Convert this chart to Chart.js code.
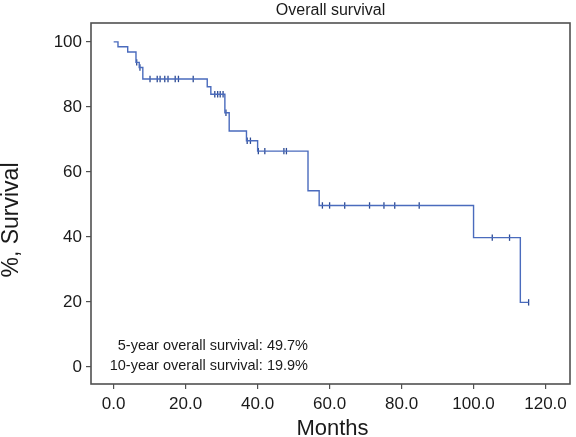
<!DOCTYPE html>
<html><head><meta charset="utf-8">
<script src="https://cdn.jsdelivr.net/npm/chart.js@4"></script>
<style>html,body{margin:0;padding:0;background:#fff}</style>
</head><body>
<canvas id="c" width="576" height="437" style="display:block;width:576px;height:437px"></canvas>
<script>
const chartTitle = 'Overall survival';
const xTitle = 'Months';
const yTitle = '%, Survival';
const xTicks = [0, 20, 40, 60, 80, 100, 120];
const yTicks = [0, 20, 40, 60, 80, 100];
const eventMonths   = [0, 1.2, 3.9, 6.2, 7.1, 8.1, 26.0, 27.0, 30.9, 32.1, 36.9, 40.0, 54.0, 57.1, 100.0, 113.0, 115.3];
const eventSurvival = [100, 98.5, 96.9, 93.7, 92.1, 88.6, 86.2, 83.9, 78.2, 72.6, 69.6, 66.4, 54.2, 49.7, 39.8, 19.9, 19.9];
const censorMonths   = [6.4, 7.3, 10.1, 12.1, 12.9, 14.2, 15.1, 17.1, 18.0, 22.1, 28.1, 28.9, 29.6, 30.4, 31.2, 37.1, 38.0, 40.2, 42.0, 47.3, 48.0, 58.0, 60.0, 64.2, 71.1, 75.1, 78.1, 84.9, 105.2, 110.0, 115.3];
const censorSurvival = [93.7, 92.1, 88.6, 88.6, 88.6, 88.6, 88.6, 88.6, 88.6, 88.6, 83.9, 83.9, 83.9, 83.9, 78.2, 69.6, 69.6, 66.4, 66.4, 66.4, 66.4, 49.7, 49.7, 49.7, 49.7, 49.7, 49.7, 49.7, 39.8, 39.8, 19.9];
const annotationLines = ['5-year overall survival: 49.7%', '10-year overall survival: 19.9%'];

const FONT = '"Liberation Sans", Arial, Helvetica, sans-serif';
const AXIS = '#505050';
const TEXT = '#1a1a1a';

const decor = {
  id: 'decor',
  afterDraw(chart) {
    const {ctx, chartArea: a} = chart;
    ctx.save();
    ctx.strokeStyle = AXIS;
    ctx.lineWidth = 1.6;
    ctx.strokeRect(a.left, a.top, a.right - a.left, a.bottom - a.top);
    ctx.fillStyle = TEXT;
    // annotations
    ctx.font = '14.5px ' + FONT;
    ctx.textAlign = 'right';
    ctx.textBaseline = 'alphabetic';
    ctx.fillText(annotationLines[0], 308, 350);
    ctx.fillText(annotationLines[1], 308, 370);
    // x title
    ctx.font = '22px ' + FONT;
    ctx.textAlign = 'center';
    ctx.fillText(xTitle, (a.left + a.right) / 2 + 2, 435);
    // y title
    ctx.font = '23px ' + FONT;
    ctx.translate(18, 220);
    ctx.rotate(-Math.PI / 2);
    ctx.fillText(yTitle, 0, 0);
    ctx.restore();
  }
};

new Chart(document.getElementById('c'), {
  type: 'line',
  data: {
    datasets: [
      {
        label: 'Survival',
        data: eventMonths.map((m, i) => ({x: m, y: eventSurvival[i]})),
        stepped: true,
        borderColor: '#4a6bbd',
        borderWidth: 1.4,
        pointRadius: 0,
        fill: false
      },
      {
        label: 'Censored',
        data: censorMonths.map((m, i) => ({x: m, y: censorSurvival[i]})),
        showLine: false,
        pointStyle: 'line',
        rotation: 90,
        pointRadius: 3.2,
        pointBorderWidth: 1.3,
        borderColor: '#2c4a94',
        pointBorderColor: '#2c4a94',
        pointBackgroundColor: '#2c4a94'
      }
    ]
  },
  options: {
    responsive: false,
    devicePixelRatio: 1,
    animation: false,
    layout: {padding: {left: 0, right: 6, top: 0, bottom: 0}},
    plugins: {
      legend: {display: false},
      tooltip: {enabled: false},
      title: {
        display: true,
        text: chartTitle,
        fullSize: false,
        color: TEXT,
        font: {family: FONT, size: 16, weight: 'normal'},
        padding: {top: 1, bottom: 2.8}
      }
    },
    scales: {
      x: {
        type: 'linear',
        min: -6.3,
        max: 126.8,
        afterBuildTicks: s => { s.ticks = xTicks.map(v => ({value: v})); },
        afterFit: s => { s.height = 53; },
        border: {display: false},
        grid: {display: true, drawOnChartArea: false, drawTicks: true, tickLength: 5, color: AXIS, lineWidth: 1.2},
        ticks: {color: TEXT, font: {family: FONT, size: 17}, padding: 5, maxRotation: 0, autoSkip: false,
                callback: v => Number(v).toFixed(1)}
      },
      y: {
        min: -5.2,
        max: 105.8,
        afterBuildTicks: s => { s.ticks = yTicks.map(v => ({value: v})); },
        afterFit: s => { s.width = 91; },
        border: {display: false},
        grid: {display: true, drawOnChartArea: false, drawTicks: true, tickLength: 5, color: AXIS, lineWidth: 1.2},
        ticks: {color: TEXT, font: {family: FONT, size: 17}, padding: 4, autoSkip: false,
                callback: v => String(v)}
      }
    }
  },
  plugins: [decor]
});
</script>
</body></html>
